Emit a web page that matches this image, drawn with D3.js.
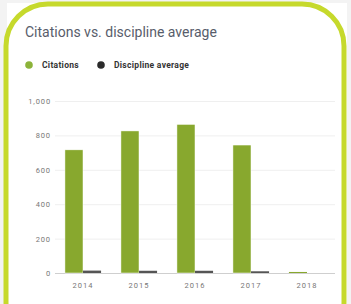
<!DOCTYPE html>
<html>
<head>
<meta charset="utf-8">
<script src="https://cdn.jsdelivr.net/npm/d3@7"></script>
<style>
  body { margin: 0; background: #f3f3f3; }
  svg { display: block; font-family: Roboto, "Noto Sans", sans-serif; }
</style>
</head>
<body>
<script>
const years = ['2014', '2015', '2016', '2017', '2018'];
const citations = [716, 826, 864, 744, 6];
const disciplineAvg = [14, 13, 13, 10, 0];
const seriesNames = ['Citations', 'Discipline average'];
const yTicks = [0, 200, 400, 600, 800, 1000];

const width = 351, height = 304;
const colors = { 'Citations': '#88a82e', 'Discipline average': '#555555' };

const svg = d3.select('body').append('svg')
    .attr('width', width)
    .attr('height', height);

// card + rounded lime frame
svg.append('rect')
    .attr('x', 7).attr('y', 3)
    .attr('width', 340).attr('height', 310)
    .attr('fill', '#fff');
svg.append('rect')
    .attr('x', 6).attr('y', 4)
    .attr('width', 338).attr('height', 340)
    .attr('rx', 42).attr('ry', 42)
    .attr('fill', 'none')
    .attr('stroke', '#c6d92c')
    .attr('stroke-width', 5);

svg.append('text')
    .attr('x', 25).attr('y', 37)
    .attr('font-size', 14)
    .attr('fill', '#585d6b')
    .text('Citations vs. discipline average');

// legend
const legendX = [29, 101];
const legend = svg.append('g').selectAll('g')
    .data(seriesNames)
    .enter().append('g')
    .attr('transform', (d, i) => `translate(${legendX[i]},65)`);
legend.append('circle')
    .attr('r', 3.8)
    .attr('fill', d => d === 'Citations' ? '#8cb33a' : '#2b2b2b');
legend.append('text')
    .attr('x', 13).attr('y', 3)
    .attr('font-size', 8.5)
    .attr('font-weight', 'bold')
    .attr('letter-spacing', 0.3)
    .attr('fill', '#333')
    .text(d => d);

// scales
const y = d3.scaleLinear().domain([0, 1000]).range([273, 101]);
const x0 = d3.scaleBand().domain(years).range([55, 335]).padding(0);
const x1 = d3.scaleBand().domain(seriesNames)
    .range([0, x0.bandwidth()])
    .paddingInner(0).paddingOuter(0.55);

// grid
const grid = svg.append('g')
    .attr('transform', 'translate(55,0)')
    .call(d3.axisLeft(y).tickValues(yTicks).tickSize(-280).tickFormat(''));
grid.select('.domain').remove();
grid.selectAll('line').attr('stroke', d => d === 0 ? '#cfcfcf' : '#efefef');

// y labels
const yAxis = svg.append('g')
    .attr('transform', 'translate(55,0)')
    .call(d3.axisLeft(y).tickValues(yTicks).tickSize(0).tickPadding(4)
        .tickFormat(d3.format(',')));
yAxis.select('.domain').remove();
yAxis.selectAll('text').attr('font-size', 7.5).attr('fill', '#777')
    .attr('letter-spacing', 0.9)
    .attr('font-family', 'Roboto, sans-serif');

// bars
const rows = years.map((yr, i) => ({
    year: yr,
    values: [
        { key: 'Citations', value: citations[i] },
        { key: 'Discipline average', value: disciplineAvg[i] }
    ]
}));
svg.append('g').selectAll('g')
    .data(rows)
    .enter().append('g')
    .attr('transform', d => `translate(${x0(d.year)},0)`)
    .selectAll('rect')
    .data(d => d.values.filter(v => v.value > 0))
    .enter().append('rect')
    .attr('x', d => x1(d.key))
    .attr('y', d => y(d.value))
    .attr('width', x1.bandwidth())
    .attr('height', d => y(0) - y(d.value))
    .attr('fill', d => colors[d.key])
    .attr('stroke', d => d.value > 20 ? '#fff' : 'none')
    .attr('stroke-width', 0.5);

// x labels
const xAxis = svg.append('g')
    .attr('transform', `translate(0,${y(0)})`)
    .call(d3.axisBottom(x0).tickSize(0).tickPadding(10));
xAxis.select('.domain').remove();
xAxis.selectAll('text').attr('font-size', 7.5).attr('fill', '#777')
    .attr('letter-spacing', 1)
    .attr('font-family', 'Roboto, sans-serif');
</script>
</body>
</html>
